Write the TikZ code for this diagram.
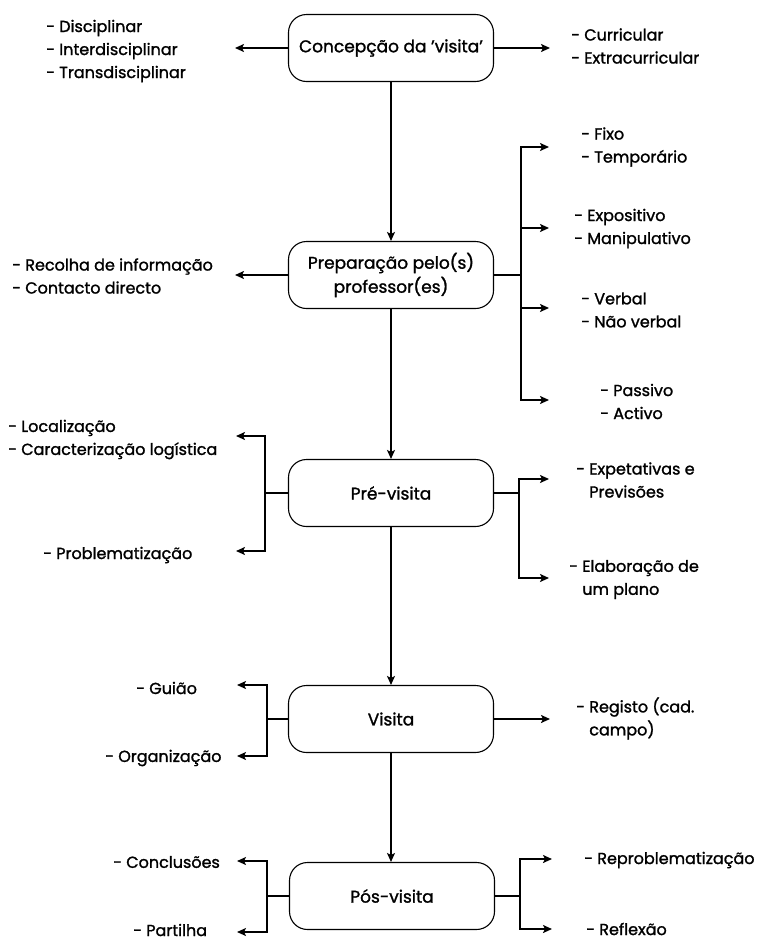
\documentclass[tikz,border=0pt]{standalone}
\usepackage{fontspec}
\setmainfont{Poppins}[FakeBold=1.4]
\usetikzlibrary{arrows.meta}
\tikzset{
  stagebox/.style={draw, line width=1.1pt, rounded corners=18pt, minimum width=205pt, minimum height=67pt, align=center, inner sep=2pt, font=\fontsize{17}{24}\selectfont},
  lbl/.style={anchor=west, align=left, inner sep=0pt, font=\fontsize{16}{23}\selectfont},
  linkline/.style={draw, line width=2pt},
  arr/.style={draw, line width=2pt, -{Stealth[length=9pt,width=8pt,inset=2pt]}},
  mainarr/.style={draw, line width=1.6pt, -{Stealth[length=9pt,width=8pt,inset=2pt]}},
}
\begin{document}
\begin{tikzpicture}[x=1pt,y=-1pt]
\useasboundingbox (0,0) rectangle (756,940);
% stages
\node[stagebox] (b1) at (391,48) {Concepção da 'visita'};
\node[stagebox] (b2) at (391,275) {Preparação pelo(s)\\professor(es)};
\node[stagebox] (b3) at (391,493) {Pré-visita};
\node[stagebox] (b4) at (391,719) {Visita};
\node[stagebox] (b5) at (392,896) {Pós-visita};
% labels
\node[lbl] (tdisc) at (46,51) {- Disciplinar\\- Interdisciplinar\\- Transdisciplinar};
\node[lbl] (tcurr) at (571,46) {- Curricular\\- Extracurricular};
\node[lbl] (trec) at (12,276) {- Recolha de informação\\- Contacto directo};
\node[lbl] (tfixo) at (581,147) {- Fixo\\- Temporário};
\node[lbl] (texpo) at (574,228.5) {- Expositivo\\- Manipulativo};
\node[lbl] (tverb) at (581,310) {- Verbal\\- Não verbal};
\node[lbl] (tpass) at (600,401.5) {- Passivo\\- Activo};
\node[lbl] (tloc) at (8,439.5) {- Localização\\- Caracterização logística};
\node[lbl] (tprob) at (43,555) {- Problematização};
\node[lbl] (texp) at (576,480) {- Expetativas e\\\phantom{- }Previsões};
\node[lbl] (telab) at (569,579.5) {- Elaboração de\\\phantom{- }um plano};
\node[lbl] (tgui) at (136,688) {- Guião};
\node[lbl] (torg) at (105,758) {- Organização};
\node[lbl] (treg) at (576,718.5) {- Registo (cad.\\\phantom{- }campo)};
\node[lbl] (tconc) at (113,862) {- Conclusões};
\node[lbl] (tpart) at (133,930) {- Partilha};
\node[lbl] (trepr) at (584,860) {- Reproblematização};
\node[lbl] (trefl) at (586,929) {- Reflexão};
% coordinates: arrow tips and junctions
\coordinate (a1l) at (235,48);
\coordinate (a1r) at (550,48);
\coordinate (a2l) at (235,275);
\coordinate (j2r) at (521,275);
\coordinate (a2r1) at (549,147);
\coordinate (a2r2) at (549,228);
\coordinate (a2r3) at (549,308);
\coordinate (a2r4) at (549,400);
\coordinate (j3l) at (265,493);
\coordinate (a3l1) at (236,436);
\coordinate (a3l2) at (236,551);
\coordinate (j3r) at (519,493);
\coordinate (a3r1) at (549,479);
\coordinate (a3r2) at (549,578);
\coordinate (j4l) at (267,719);
\coordinate (a4l1) at (237,685);
\coordinate (a4l2) at (237,756);
\coordinate (a4r) at (550,719);
\coordinate (j5l) at (267,896);
\coordinate (a5l1) at (237,861);
\coordinate (a5l2) at (237,932);
\coordinate (j5r) at (520,896);
\coordinate (a5r1) at (552,859);
\coordinate (a5r2) at (552,929);
% main flow
\draw[mainarr] (b1.south) -- (b2.north);
\draw[mainarr] (b2.south) -- (b3.north);
\draw[mainarr] (b3.south) -- (b4.north);
\draw[mainarr] (b4.south) -- (b4.south |- b5.north);
% box 1
\draw[arr] (b1.west) -- (a1l);
\draw[arr] (b1.east) -- (a1r);
% box 2
\draw[arr] (b2.west) -- (a2l);
\draw[linkline] (b2.east) -- (j2r);
\draw[arr] (j2r) |- (a2r1);
\draw[arr] (j2r |- a2r2) -- (a2r2);
\draw[arr] (j2r |- a2r3) -- (a2r3);
\draw[arr] (j2r) |- (a2r4);
% box 3
\draw[linkline] (b3.west) -- (j3l);
\draw[arr] (j3l) |- (a3l1);
\draw[arr] (j3l) |- (a3l2);
\draw[linkline] (b3.east) -- (j3r);
\draw[arr] (j3r) |- (a3r1);
\draw[arr] (j3r) |- (a3r2);
% box 4
\draw[linkline] (b4.west) -- (j4l);
\draw[arr] (j4l) |- (a4l1);
\draw[arr] (j4l) |- (a4l2);
\draw[arr] (b4.east) -- (a4r);
% box 5
\draw[linkline] (b5.west) -- (j5l);
\draw[arr] (j5l) |- (a5l1);
\draw[arr] (j5l) |- (a5l2);
\draw[linkline] (b5.east) -- (j5r);
\draw[arr] (j5r) |- (a5r1);
\draw[arr] (j5r) |- (a5r2);
\end{tikzpicture}
\end{document}
